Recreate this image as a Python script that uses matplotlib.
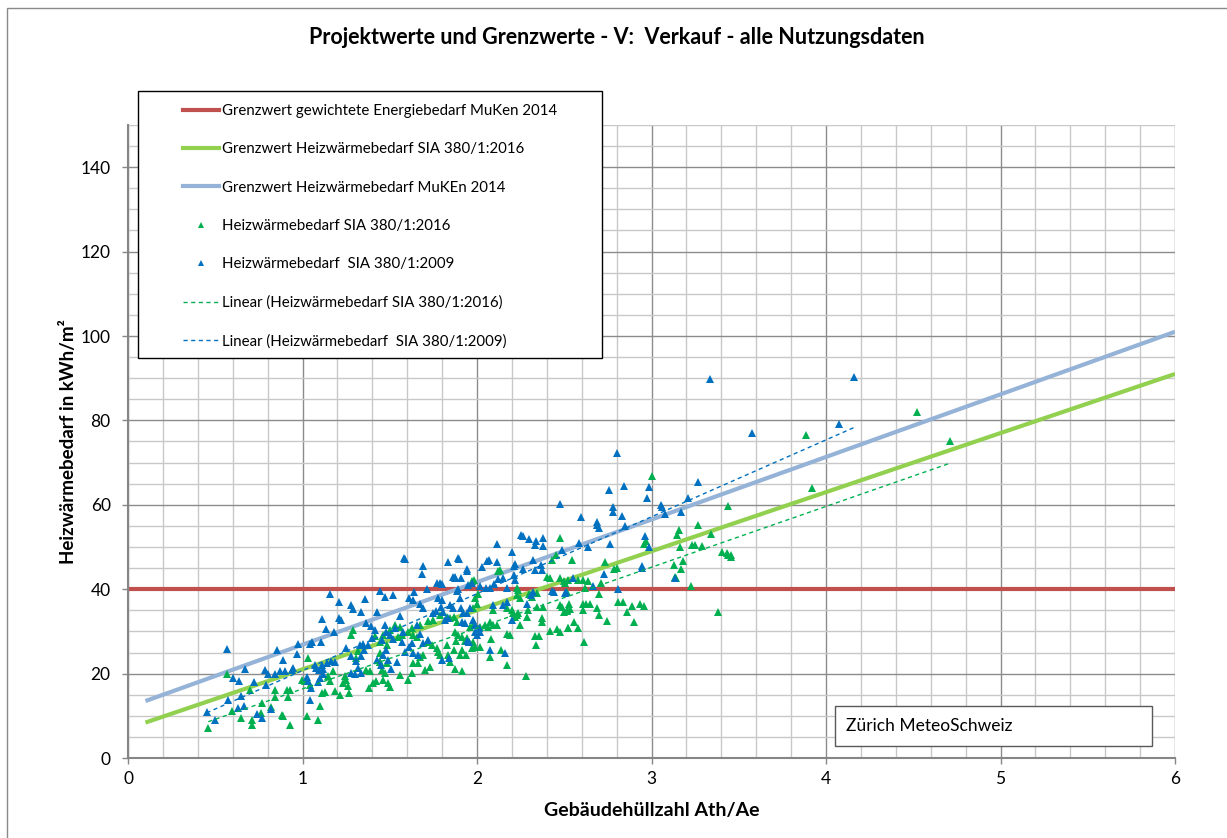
import numpy as np
import matplotlib
matplotlib.use("Agg")
import matplotlib.pyplot as plt
import matplotlib.ticker as mtick
from matplotlib.lines import Line2D
from matplotlib.patches import Rectangle

plt.rcParams['font.family'] = ['Lato', 'DejaVu Sans']

# limit lines (Grenzwerte)
red_x = [0.0, 6.0]
red_y = [40.0, 40.0]
green_lim_x = [0.1, 6.0]
green_lim_y = [8.4, 91.0]
blue_lim_x = [0.1, 6.0]
blue_lim_y = [13.5, 101.0]

# linear trend lines
green_trend_x = [0.46, 4.70]
green_trend_y = [8.6, 69.7]
blue_trend_x = [0.45, 4.16]
blue_trend_y = [10.7, 78.3]

# Heizwaermebedarf SIA 380/1:2009 (blue points)
blue_x = [0.57, 0.455, 0.50, 0.575, 0.60, 0.636, 0.67, 0.646, 0.667, 0.633,
          0.724, 0.737, 0.766, 0.785, 0.80, 0.789, 0.852, 0.842, 0.886, 0.873,
          0.90, 0.937, 0.947, 0.966, 0.976, 1.042, 1.057, 1.105, 1.109, 1.134,
          1.181, 1.208, 1.219, 1.158, 1.208, 1.28, 1.29, 1.337, 1.356, 1.429,
          1.442, 1.023, 1.033, 1.048, 1.042, 1.08, 1.094, 1.109, 1.143, 1.166,
          1.185, 1.28, 1.309, 1.337, 1.328, 1.347, 1.375, 1.366, 1.395, 1.414,
          1.28, 1.30, 1.318, 1.337, 1.429, 1.452, 1.10, 1.09, 1.12, 1.07,
          1.115, 1.35, 1.40, 1.25, 0.82,
          1.587, 1.692, 1.683, 1.836, 1.897, 1.94, 1.945, 2.06, 2.07, 2.113,
          2.027, 2.21, 2.22, 2.265, 2.323, 2.33, 2.375, 2.367, 1.77, 1.79,
          1.80, 1.715, 1.64, 1.517, 1.472, 1.874, 1.874, 1.86, 1.91, 1.893,
          1.887, 1.95, 1.97, 2.017, 2.05, 2.075, 2.097, 2.122, 2.147, 2.174,
          2.21, 2.218, 1.559, 1.612, 1.635, 1.673, 1.692, 1.75, 1.765, 1.778,
          1.797, 1.793, 1.807, 1.845, 1.902, 1.906, 1.918, 1.945, 1.96, 1.93,
          1.979, 1.988, 2.017, 2.013, 1.912, 2.093, 2.15, 2.17, 2.285, 2.307,
          2.323, 2.428, 2.44, 2.504, 2.20, 1.692, 1.72, 1.80, 1.841, 2.075,
          2.16, 1.48, 1.50, 1.52, 1.473, 1.53, 1.463, 1.492, 1.51, 1.54,
          1.578, 1.568, 1.654, 1.673, 1.625, 1.612, 1.587, 1.635, 1.664, 1.478,
          1.454, 1.836, 1.817, 1.86, 1.988, 1.998, 1.94, 1.956,
          2.55, 2.73, 2.666, 2.51, 2.81, 2.944, 2.948, 3.135,
          2.475, 2.25, 2.265, 2.30, 2.34, 2.33, 2.38, 2.376, 2.116, 2.20,
          1.583, 1.893, 2.485,
          3.335, 3.578, 2.804, 2.756, 2.84, 2.987, 2.976, 3.264, 3.207, 2.596,
          3.054, 3.062, 3.077, 3.17, 2.781, 2.781, 2.833, 2.69, 2.686, 2.699,
          2.848, 2.584, 2.634, 2.762, 2.96, 2.985, 4.076, 4.16]
blue_y = [25.9, 10.9, 9.1, 13.8, 19.0, 18.3, 21.2, 14.6, 12.4, 11.9,
          18.0, 10.5, 9.5, 20.9, 19.9, 17.4, 25.7, 19.9, 23.3, 20.5,
          20.5, 20.9, 21.3, 24.6, 27.0, 27.0, 27.5, 27.5, 33.0, 30.6,
          29.8, 33.1, 32.7, 38.8, 36.9, 36.3, 35.3, 34.6, 37.7, 34.7,
          39.6, 19.1, 18.2, 16.6, 13.8, 21.3, 20.9, 22.1, 22.5, 23.1,
          22.8, 24.1, 22.9, 24.1, 26.8, 27.0, 26.8, 32.0, 31.2, 30.4,
          20.1, 19.8, 21.3, 20.1, 23.3, 22.1, 19.0, 18.0, 20.0, 22.0,
          21.0, 25.5, 28.5, 26.0, 11.5,
          47.2, 45.6, 43.5, 46.4, 47.2, 44.8, 44.3, 46.7, 47.0, 46.4,
          45.3, 45.5, 45.9, 44.8, 46.9, 44.5, 44.5, 45.7, 41.4, 41.4,
          41.2, 40.0, 39.3, 38.7, 38.2, 43.0, 42.6, 43.0, 42.6, 40.0,
          39.6, 41.0, 41.4, 40.8, 40.4, 40.2, 41.2, 42.4, 42.7, 40.4,
          43.4, 42.2, 33.6, 37.8, 37.4, 36.4, 35.5, 34.3, 34.8, 37.8,
          37.4, 35.8, 34.6, 36.3, 37.8, 35.6, 34.3, 34.3, 35.5, 31.9,
          32.7, 31.5, 29.9, 30.7, 32.3, 36.3, 36.3, 36.9, 36.4, 38.6,
          39.4, 39.6, 39.4, 39.0, 32.7, 27.2, 28.0, 23.2, 23.6, 25.6,
          24.8, 29.9, 29.1, 28.3, 31.5, 30.7, 24.4, 23.2, 21.2, 22.8,
          29.9, 27.6, 31.5, 29.5, 27.2, 26.4, 25.2, 24.8, 24.4, 25.7,
          28.0, 33.1, 32.7, 35.5, 29.9, 29.1, 27.7, 27.4,
          42.6, 43.5, 40.8, 39.3, 40.0, 45.4, 45.0, 42.6,
          60.3, 52.8, 52.6, 52.0, 51.4, 50.4, 52.2, 50.2, 50.7, 48.9,
          47.3, 47.3, 49.2,
          89.9, 76.9, 72.3, 63.5, 64.4, 64.3, 61.6, 65.4, 61.7, 57.2,
          60.0, 59.5, 57.8, 58.3, 59.5, 58.3, 57.4, 55.9, 55.2, 54.4,
          54.9, 51.0, 50.0, 50.7, 52.6, 50.0, 79.1, 90.4]

# Heizwaermebedarf SIA 380/1:2016 (green points)
green_x = [0.461, 0.566, 0.595, 0.646, 0.699, 0.709, 0.713, 0.766, 0.819, 0.842,
           0.88, 0.89, 0.928, 0.842, 0.909, 0.928, 0.915, 1.023, 0.995, 1.014,
           1.033, 1.042, 1.09, 1.10, 1.109, 1.128, 1.147, 1.156, 1.175, 1.185,
           1.214, 1.233, 1.252, 1.242, 1.261, 1.265, 1.29, 1.28, 1.309, 1.318,
           1.366, 1.385, 1.381, 1.404, 1.423, 1.442, 1.446, 1.442, 1.414, 0.76,
           2.12, 2.13, 1.98, 1.97, 2.43, 2.40, 2.42, 2.476, 2.50, 2.52,
           2.227, 2.236, 2.246, 2.23, 2.313, 2.30, 2.342, 2.376, 2.342, 2.476,
           2.485, 2.50, 2.514, 1.988, 2.007, 2.002, 1.975, 2.093, 2.17, 2.198,
           2.208, 2.218, 2.23, 2.236, 2.294, 2.284, 2.37, 2.37, 2.246, 2.174,
           2.19, 2.418, 2.46, 2.476, 2.524, 2.332, 2.357, 2.338, 2.08, 1.944,
           1.956, 1.93, 1.96, 1.98, 2.017, 2.046, 2.074, 2.093, 2.064, 2.113,
           1.874, 1.893, 1.88, 1.912, 1.845, 1.868, 1.826, 1.883, 1.75, 1.721,
           1.788, 1.673, 1.625, 1.606, 1.635, 1.654, 1.549, 1.559, 1.568, 1.463,
           1.482, 1.501, 1.53, 1.711, 1.74, 1.769, 1.778, 1.788, 1.826, 1.836,
           1.845, 1.868, 1.912, 1.902, 1.937, 1.988, 2.017, 1.97, 1.979, 1.692,
           1.635, 1.673, 1.73, 1.702, 1.454, 1.473, 1.444, 1.482, 1.492, 1.501,
           1.463, 1.559, 1.606, 1.625, 1.873, 1.912, 2.17, 2.28, 2.074, 2.14,
           1.66,
           2.546, 2.733, 2.786, 2.80, 3.13, 3.17, 3.18, 3.137, 3.14, 3.226,
           2.58, 2.609, 2.637, 2.504, 2.514, 2.62, 2.70, 2.71, 2.527, 2.514,
           2.533, 2.609, 2.622, 2.647, 2.609, 2.69, 2.70, 2.806, 2.838, 2.886,
           2.857, 2.934, 2.957, 2.557, 2.523, 2.577, 2.743, 2.90, 2.615, 3.38,
           3.44, 3.453, 2.475, 2.45,
           3.004, 3.44, 3.264, 3.157, 3.145, 3.34, 2.966, 2.958, 3.163, 3.23,
           3.25, 3.29, 3.405, 3.43, 3.453, 3.884, 3.92, 4.52, 4.71]
green_y = [7.0, 19.9, 11.1, 9.5, 16.2, 9.1, 7.8, 13.1, 12.0, 14.4,
           10.3, 9.9, 7.9, 16.0, 16.2, 16.2, 14.4, 9.9, 18.6, 18.2,
           23.7, 17.4, 8.9, 12.3, 15.4, 15.7, 19.4, 18.3, 20.5, 15.8,
           15.0, 17.8, 18.6, 19.4, 17.0, 15.4, 30.4, 29.2, 23.7, 25.3,
           20.9, 20.5, 16.6, 17.8, 18.2, 24.9, 27.6, 22.7, 28.8, 10.7,
           44.4, 44.6, 42.1, 41.9, 46.9, 43.0, 42.6, 42.6, 42.0, 42.2,
           40.4, 39.8, 38.0, 38.6, 38.2, 38.8, 39.0, 35.9, 35.9, 36.3,
           35.9, 34.7, 34.8, 38.0, 38.8, 36.6, 35.5, 35.1, 35.5, 35.1,
           34.3, 33.5, 34.0, 34.3, 35.1, 33.5, 32.3, 33.1, 31.5, 29.5,
           29.1, 30.1, 30.6, 29.9, 30.7, 28.8, 28.8, 26.8, 28.3, 28.4,
           27.4, 27.7, 31.1, 31.9, 31.1, 31.5, 32.3, 31.5, 31.1, 31.5,
           29.9, 29.1, 27.7, 28.7, 33.1, 33.5, 33.5, 32.3, 32.7, 32.5,
           34.0, 31.5, 30.7, 29.9, 29.1, 28.7, 28.7, 31.1, 29.1, 29.1,
           26.8, 30.3, 31.5, 27.6, 26.8, 26.0, 25.2, 24.4, 26.8, 24.4,
           22.8, 25.6, 25.6, 24.4, 24.4, 26.4, 26.4, 26.0, 27.4, 24.4,
           22.4, 24.0, 21.6, 20.9, 20.9, 20.1, 22.8, 22.4, 17.7, 16.9,
           18.5, 19.7, 18.5, 20.1, 21.2, 20.5, 22.0, 19.5, 24.0, 25.6,
           22.4,
           46.9, 46.4, 44.8, 45.1, 45.7, 44.8, 46.7, 42.8, 42.6, 40.8,
           42.1, 42.1, 41.9, 41.4, 39.4, 40.2, 38.8, 41.4, 36.6, 35.1,
           35.3, 36.6, 36.4, 36.4, 35.1, 35.6, 34.0, 37.0, 37.0, 36.1,
           34.5, 36.4, 36.1, 32.3, 30.7, 30.9, 32.5, 32.3, 27.4, 34.5,
           48.0, 47.7, 52.2, 48.2,
           66.8, 59.7, 55.3, 54.0, 52.8, 53.0, 51.5, 50.7, 50.0, 50.4,
           50.4, 50.2, 48.9, 48.5, 48.1, 76.5, 63.9, 82.1, 75.0]

labels = ["Grenzwert gewichtete Energiebedarf MuKen 2014",
          "Grenzwert Heizwärmebedarf SIA 380/1:2016",
          "Grenzwert Heizwärmebedarf MuKEn 2014",
          "Heizwärmebedarf SIA 380/1:2016",
          "Heizwärmebedarf  SIA 380/1:2009",
          "Linear (Heizwärmebedarf SIA 380/1:2016)",
          "Linear (Heizwärmebedarf  SIA 380/1:2009)"]

c_red = '#C0504D'
c_green_lim = '#92D050'
c_blue_lim = '#95B3D7'
c_green = '#00B050'
c_blue = '#0070C0'

fig = plt.figure(figsize=(12.27, 8.38), dpi=100)
ax = fig.add_axes([128 / 1227, 1 - 758 / 838, 1047 / 1227, 633 / 838])

ax.plot(red_x, red_y, color=c_red, lw=3, solid_capstyle='butt', zorder=2)
ax.plot(green_lim_x, green_lim_y, color=c_green_lim, lw=3, solid_capstyle='butt', zorder=2)
ax.plot(blue_lim_x, blue_lim_y, color=c_blue_lim, lw=3, solid_capstyle='butt', zorder=2)
ax.plot(green_x, green_y, ls='none', marker='^', ms=5.5, mew=0, color=c_green, zorder=3)
ax.plot(blue_x, blue_y, ls='none', marker='^', ms=5.5, mew=0, color=c_blue, zorder=4)
ax.plot(green_trend_x, green_trend_y, color=c_green, lw=1, dashes=(3, 2.5), zorder=5)
ax.plot(blue_trend_x, blue_trend_y, color=c_blue, lw=1, dashes=(3, 2.5), zorder=5)

ax.set_xlim(0, 6)
ax.set_ylim(0, 150)
ax.xaxis.set_major_locator(mtick.MultipleLocator(1))
ax.xaxis.set_minor_locator(mtick.MultipleLocator(0.2))
ax.yaxis.set_major_locator(mtick.MultipleLocator(20))
ax.yaxis.set_minor_locator(mtick.MultipleLocator(5))
ax.grid(True, which='major', color='#8C8C8C', lw=1.0, zorder=0)
ax.grid(True, which='minor', color='#C8C8C8', lw=1.0, zorder=0)
ax.set_axisbelow(True)
for s in ['top', 'right']:
    ax.spines[s].set_visible(False)
for s in ['left', 'bottom']:
    ax.spines[s].set_color('#868686')
    ax.spines[s].set_linewidth(1.5)
ax.tick_params(which='major', direction='out', length=4.5, width=1, color='#868686',
               labelsize=12.5, labelcolor='black')
ax.tick_params(axis='y', which='major', pad=8)
ax.tick_params(axis='x', which='major', pad=5)
ax.tick_params(which='minor', length=0)

ax.set_xlabel('Gebäudehüllzahl Ath/Ae', fontsize=14, fontweight='bold')
ax.xaxis.set_label_coords(0.5, -0.0837)
ax.xaxis.label.set_va('center')
ax.set_ylabel('Heizwärmebedarf in kWh/m²', fontsize=13.5, fontweight='bold')
ax.yaxis.set_label_coords(-0.0564, 0.5)
ax.yaxis.label.set_va('center')

fig.text(0.503, 1 - 37 / 838, 'Projektwerte und Grenzwerte - V:  Verkauf - alle Nutzungsdaten',
         ha='center', va='center', fontsize=15.5, fontweight='bold')

# legend box
fig.patches.append(Rectangle((138 / 1227, 1 - 358 / 838), 464 / 1227, 267 / 838,
                             transform=fig.transFigure, facecolor='white',
                             edgecolor='black', lw=1, zorder=4))
handles = [Line2D([], [], color=c_red, lw=3),
           Line2D([], [], color=c_green_lim, lw=3),
           Line2D([], [], color=c_blue_lim, lw=3),
           Line2D([], [], ls='none', marker='^', ms=5, mew=0, color=c_green),
           Line2D([], [], ls='none', marker='^', ms=5, mew=0, color=c_blue),
           Line2D([], [], color=c_green, lw=1, dashes=(3, 2.5)),
           Line2D([], [], color=c_blue, lw=1, dashes=(3, 2.5))]
leg = fig.legend(handles, labels, loc='upper left', bbox_to_anchor=(183 / 1227, 1 - 104 / 838),
                 frameon=False, fontsize=10.8, handlelength=2.4, handletextpad=0.22,
                 labelspacing=1.62, borderpad=0, borderaxespad=0)
leg.set_zorder(6)

# location box
fig.patches.append(Rectangle((835 / 1227, 1 - 746 / 838), 317 / 1227, 40 / 838,
                             transform=fig.transFigure, facecolor='white',
                             edgecolor='#595959', lw=1, zorder=4))
fig.text(846 / 1227, 1 - 726 / 838, 'Zürich MeteoSchweiz', ha='left', va='center',
         fontsize=12.5, zorder=6)

# outer chart border
fig.patches.append(Rectangle((7 / 1227, -0.05), 1.1, 1.05 - 8 / 838,
                             transform=fig.transFigure, fill=False,
                             edgecolor='#898989', lw=1, zorder=1))

fig.savefig('out.png', dpi=100)
